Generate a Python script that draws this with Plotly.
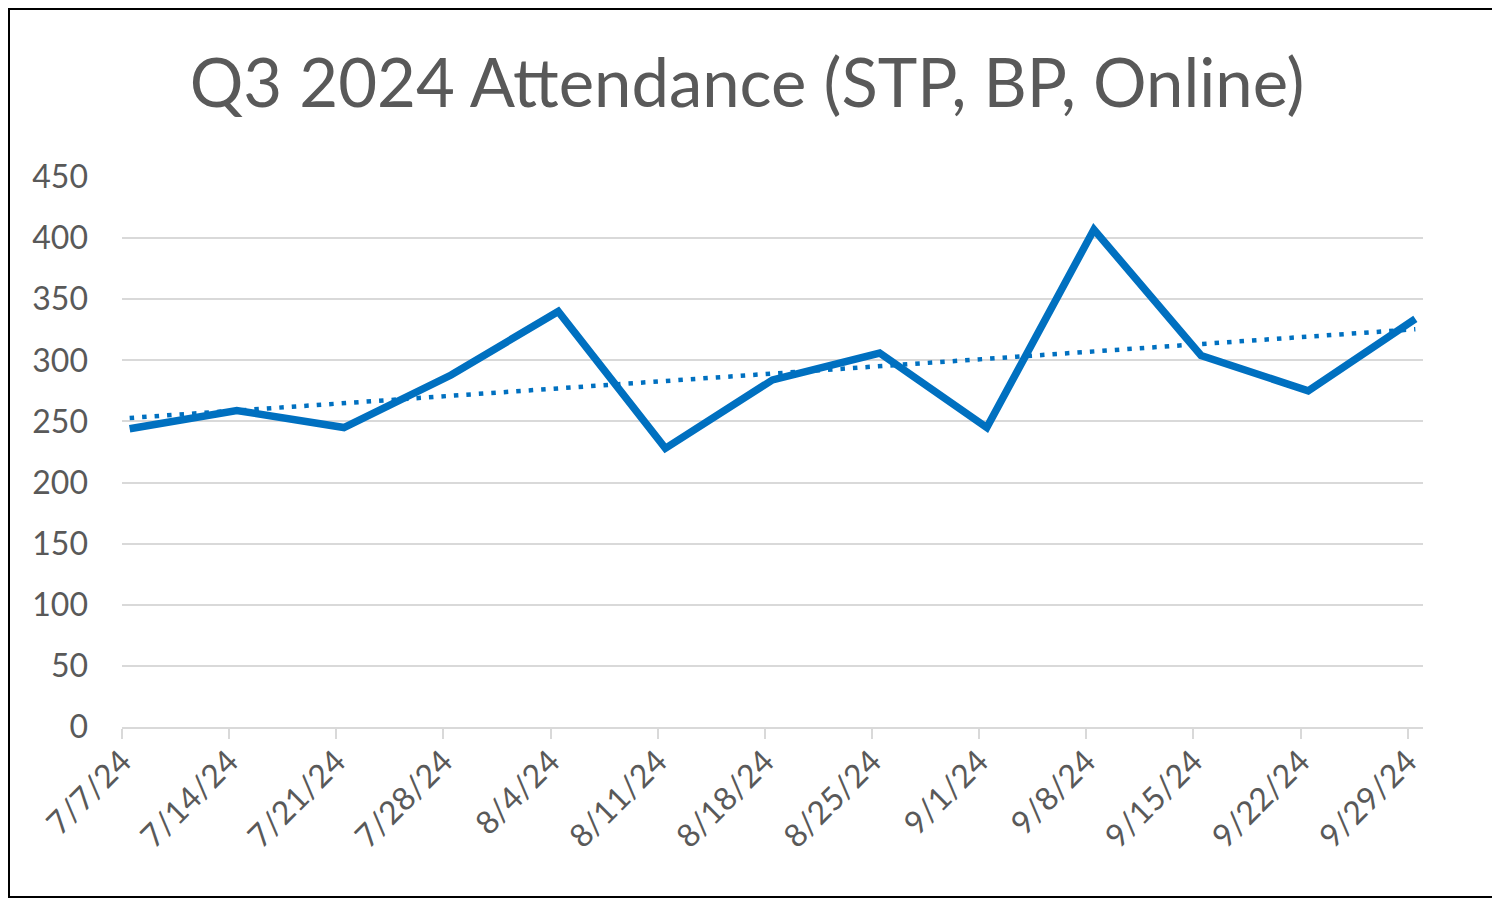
import plotly.graph_objects as go
import numpy as np
import pandas as pd

# weekly attendance
dates = ["2024-07-07", "2024-07-14", "2024-07-21", "2024-07-28", "2024-08-04",
         "2024-08-11", "2024-08-18", "2024-08-25", "2024-09-01", "2024-09-08",
         "2024-09-15", "2024-09-22", "2024-09-29"]
attendance = [244, 259, 245, 288, 340, 228, 284, 306, 245, 407, 304, 275, 334]
tick_labels = ["7/7/24", "7/14/24", "7/21/24", "7/28/24", "8/4/24", "8/11/24",
               "8/18/24", "8/25/24", "9/1/24", "9/8/24", "9/15/24", "9/22/24", "9/29/24"]

BLUE = "#0070C0"
GREY_TXT = "#595959"
GRID = "#D9D9D9"
FONT = "Lato"

d = pd.to_datetime(dates)
# excel date axis: each day is a slot, point sits mid-slot, ticks at slot edges
x_pts = d + pd.Timedelta(hours=12)
days = (d - d[0]).days.values
slope, icpt = np.polyfit(days, attendance, 1)
trend = slope * days + icpt

fig = go.Figure()
fig.add_trace(go.Scatter(x=x_pts, y=attendance, mode="lines",
                         line=dict(color=BLUE, width=7.5), hoverinfo="skip"))
fig.add_trace(go.Scatter(x=[x_pts[0], x_pts[-1]], y=[trend[0], trend[-1]], mode="lines",
                         line=dict(color=BLUE, width=4.5, dash="4.5px,8px"), hoverinfo="skip"))

# plot area 1301 x 550 px
fig.update_layout(
    width=1500, height=905,
    margin=dict(l=114, r=85, t=169, b=186),
    paper_bgcolor="white", plot_bgcolor="white",
    showlegend=False,
    font=dict(family=FONT, color=GREY_TXT),
    title=dict(text="Q3 2024 Attendance (STP, BP, Online)", x=0.4927, xanchor="center",
               y=0.917, yanchor="middle", font=dict(size=67, color=GREY_TXT, family=FONT)),
    shapes=[dict(type="rect", xref="paper", yref="paper",
                 x0=-113 / 1301, x1=1372 / 1301, y0=-170 / 550, y1=718 / 550,
                 line=dict(color="black", width=2), fillcolor="rgba(0,0,0,0)")],
)
fig.update_xaxes(
    range=[d[0], d[-1] + pd.Timedelta(days=1)],
    tickvals=d, ticktext=tick_labels, tickangle=-45,
    tickfont=dict(size=32, color=GREY_TXT),
    showgrid=False, showline=True, linecolor=GRID, linewidth=2,
    ticks="outside", ticklen=10, tickwidth=2, tickcolor=GRID,
    zeroline=False, ticklabelstandoff=-9,
)
fig.update_yaxes(
    range=[0, 450], dtick=50,
    tickfont=dict(size=32, color=GREY_TXT),
    showgrid=True, gridcolor=GRID, gridwidth=2,
    zeroline=False, showline=False, ticklabelstandoff=33,
)

fig.write_html("out.html")
